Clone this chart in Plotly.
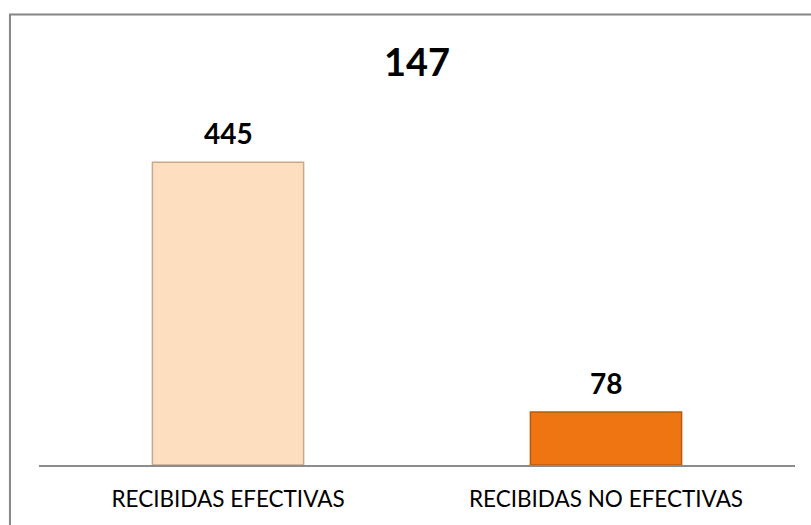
import plotly.graph_objects as go

categories = ["RECIBIDAS EFECTIVAS", "RECIBIDAS NO EFECTIVAS"]
values = [445, 78]
title_text = "147"
bar_colors = ["#FDDFBF", "#EF7513"]
edge_colors = ["#C8A98A", "#B85A0E"]

fig = go.Figure()
fig.add_trace(go.Bar(
    x=categories, y=values,
    marker=dict(color=bar_colors, line=dict(color=edge_colors, width=1.5)),
    width=0.40,
    hoverinfo="skip",
))

for c, v in zip(categories, values):
    fig.add_annotation(x=c, y=v, text=f"<b>{v}</b>", showarrow=False,
                       yanchor="bottom", yshift=10,
                       font=dict(family="Lato", size=28, color="#000000"))

fig.update_layout(
    width=811, height=525,
    margin=dict(l=39, r=16, t=90, b=60),
    paper_bgcolor="white", plot_bgcolor="white",
    showlegend=False,
    title=dict(text=f"<b>{title_text}</b>", x=0.5, xref="paper", y=1 - 63 / 525,
               yanchor="middle", xanchor="center",
               font=dict(family="Lato", size=38, color="#000000")),
    xaxis=dict(showline=True, linecolor="#8C8C8C", linewidth=1.5,
               showgrid=False, ticks="", ticklabelstandoff=13,
               tickfont=dict(family="Lato", size=22.5, color="#000000")),
    yaxis=dict(range=[0, 551], visible=False, showgrid=False, zeroline=False),
    shapes=[
        dict(type="rect", xref="paper", yref="paper", x0=-0.0384, x1=1.05,
             y0=-0.2, y1=1.2013, line=dict(color="#868686", width=2),
             fillcolor="rgba(0,0,0,0)", layer="above"),
    ],
)

fig.write_html("out.html",
               config={"displayModeBar": False},
               post_script="document.body.style.margin='0';document.body.style.overflow='hidden';")
